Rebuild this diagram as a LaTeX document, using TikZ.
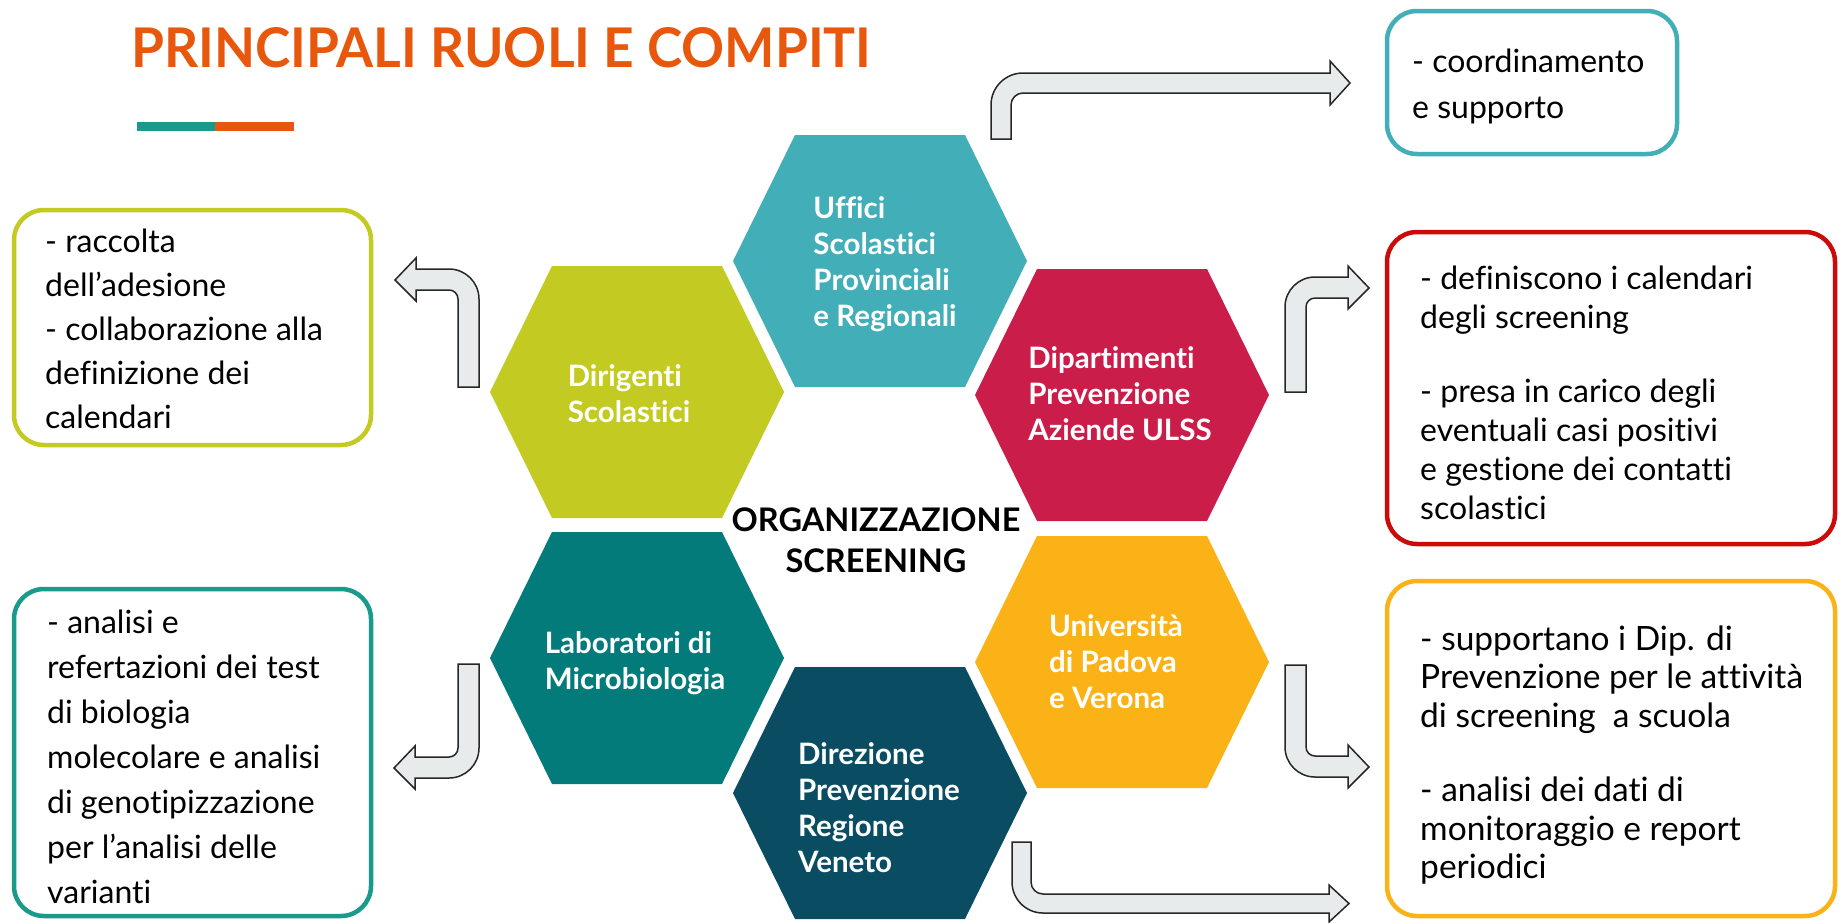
\documentclass[tikz,border=0pt]{standalone}
\usepackage{fontspec}
\setmainfont{Lato}[Ligatures=NoCommon]
\usepackage{graphicx}
\definecolor{titleorange}{HTML}{E8580C}
\definecolor{barteal}{HTML}{1A9A8A}
\definecolor{cUffici}{HTML}{42AEB8}
\definecolor{cDirigenti}{HTML}{C3CB22}
\definecolor{cDipart}{HTML}{CB1D4A}
\definecolor{cLab}{HTML}{027B7A}
\definecolor{cUni}{HTML}{FBB216}
\definecolor{cDirez}{HTML}{0A4D63}
\definecolor{boxred}{HTML}{CC0A0A}
\definecolor{boxteal}{HTML}{1A9A8A}
\definecolor{arrowgrey}{HTML}{E8EBEC}
\newcommand\hexshape[3]{\fill[#3, shift={(#1,#2)}] (-147,0) -- (-85,-126) -- (85,-126) -- (147,0) -- (85,126) -- (-85,126) -- cycle;}
\begin{document}
\begin{tikzpicture}[x=1pt,y=-1pt,
  hextxt/.style={text=white, font=\bfseries\fontsize{29.5}{36}\selectfont, align=left, inner sep=0pt},
  boxtxt/.style={text=black, align=left, inner sep=0pt, anchor=west},
  infobox/.style={line width=4.5pt, rounded corners=30pt, fill=white},
  bentarrow/.style={fill=arrowgrey, draw=black!85, line width=1.5pt, line join=miter}]
\useasboundingbox (0,0) rectangle (1841,922);

% title
\node[anchor=base west, inner sep=0pt, text=titleorange] (title) at (131,67)
  {\resizebox{740pt}{40pt}{\bfseries PRINCIPALI RUOLI E COMPITI}};
\fill[barteal] (137,122) rectangle (215,131);
\fill[titleorange] (215,122) rectangle (294,131);

% hexagons
\hexshape{880}{261}{cUffici}
\hexshape{637}{392}{cDirigenti}
\hexshape{1122}{395}{cDipart}
\hexshape{637}{658}{cLab}
\hexshape{1122}{662}{cUni}
\hexshape{880}{793}{cDirez}

\node[hextxt] (uffici) at (885,264) {Uffici\\Scolastici\\Provinciali\\e Regionali};
\node[hextxt] (dirigenti) at (629,394) {Dirigenti\\Scolastici};
\node[hextxt] (dipart) at (1120,394) {Dipartimenti\\Prevenzione\\Aziende ULSS};
\node[hextxt] (lab) at (635,663) {Laboratori di\\Microbiologia};
\node[hextxt] (uni) at (1116,662) {Università\\di Padova\\e Verona};
\node[hextxt] (direz) at (879,808) {Direzione\\Prevenzione\\Regione\\Veneto};

\node[align=center, inner sep=0pt, font=\bfseries\fontsize{32.5}{41}\selectfont] (center) at (876,540) {ORGANIZZAZIONE\\SCREENING};

% info boxes
\draw[infobox, draw=cDirigenti] (14,210) rectangle (371,445);
\draw[infobox, draw=cUffici] (1387,11) rectangle (1677,154);
\draw[infobox, draw=boxred] (1387,232) rectangle (1835,544);
\draw[infobox, draw=boxteal] (14,589) rectangle (371,916);
\draw[infobox, draw=cUni] (1387,581) rectangle (1835,916);

\node[boxtxt, font=\fontsize{32}{44}\selectfont] (t1) at (45,329)
  {- raccolta\\dell’adesione\\- collaborazione alla\\definizione dei\\calendari};
\node[boxtxt, font=\fontsize{32}{46}\selectfont] (t2) at (1412,86)
  {- coordinamento\\e supporto};
\node[boxtxt, font=\fontsize{32}{39}\selectfont] (t3) at (1420,393)
  {- definiscono i calendari\\degli screening\\[35pt]- presa in carico degli\\eventuali casi positivi\\e gestione dei contatti\\scolastici};
\node[boxtxt, font=\fontsize{32}{45}\selectfont] (t4) at (47,757)
  {- analisi e\\refertazioni dei test\\di biologia\\molecolare e analisi\\di genotipizzazione\\per l’analisi delle\\varianti};
\node[boxtxt, font=\fontsize{33.5}{38.5}\selectfont] (t5) at (1420,755)
  {- supportano i Dip. di\\Prevenzione per le attività\\di screening\ \ a scuola\\[36pt]- analisi dei dati di\\monitoraggio e report\\periodici};

% bent block arrows
\draw[bentarrow] (991,139) -- (991,105) arc[start angle=180,end angle=270,radius=32]
  -- (1330,73) -- (1330,61) -- (1350,83) -- (1330,105) -- (1330,93) -- (1023,93)
  arc[start angle=270,end angle=180,radius=12] -- (1011,139) -- cycle;
\draw[bentarrow] (479,387) -- (479,299) arc[start angle=0,end angle=-90,radius=30]
  -- (416,269) -- (416,258) -- (395,280) -- (416,301) -- (416,290) -- (449,290)
  arc[start angle=-90,end angle=0,radius=9] -- (458,387) -- cycle;
\draw[bentarrow] (1285,392) -- (1285,307) arc[start angle=180,end angle=270,radius=30]
  -- (1348,277) -- (1348,266) -- (1369,288) -- (1348,309) -- (1348,298) -- (1315,298)
  arc[start angle=270,end angle=180,radius=9] -- (1306,392) -- cycle;
\draw[bentarrow] (458,664) -- (479,664) -- (479,748) arc[start angle=0,end angle=90,radius=30]
  -- (415,778) -- (415,789) -- (394,768) -- (415,746) -- (415,757) -- (449,757)
  arc[start angle=90,end angle=0,radius=9] -- cycle;
\draw[bentarrow] (1285,665) -- (1306,665) -- (1306,747) arc[start angle=180,end angle=90,radius=9]
  -- (1348,756) -- (1348,745) -- (1369,767) -- (1348,788) -- (1348,777) -- (1315,777)
  arc[start angle=90,end angle=180,radius=30] -- cycle;
\draw[bentarrow] (1012,842) -- (1031,842) -- (1031,882) arc[start angle=180,end angle=90,radius=12]
  -- (1329,894) -- (1329,885) -- (1349,903.5) -- (1329,922) -- (1329,913) -- (1043,913)
  arc[start angle=90,end angle=180,radius=31] -- cycle;
\end{tikzpicture}
\end{document}
